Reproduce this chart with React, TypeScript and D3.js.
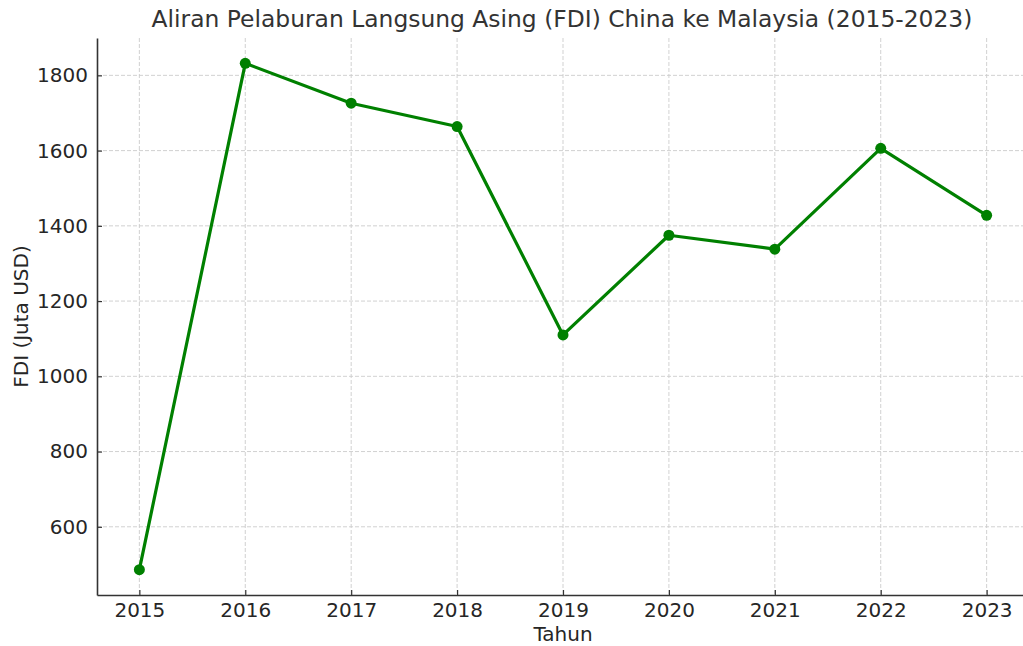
import React, { useEffect, useRef } from 'react';
import * as d3 from 'd3';

const years = [2015, 2016, 2017, 2018, 2019, 2020, 2021, 2022, 2023];
const fdi = [486, 1832, 1726, 1664, 1110, 1375, 1338, 1606, 1428];
const yTicks = [600, 800, 1000, 1200, 1400, 1600, 1800];

export default function App() {
  const svgRef = useRef<SVGSVGElement>(null);

  useEffect(() => {
    const svg = d3.select(svgRef.current);
    svg.selectAll('*').remove();
    const width = 1023;
    const height = 646;
    const left = 97;
    const top = 38;
    const bottom = 595;
    const right = 1029;
    const font = "'DejaVu Sans', sans-serif";

    const x = d3.scaleLinear().domain([2014.6, 2023.4]).range([left, right]);
    const [lo, hi] = d3.extent(fdi) as [number, number];
    const pad = (hi - lo) * 0.05;
    const y = d3.scaleLinear().domain([lo - pad, hi + pad]).range([bottom, top]);

    svg.append('rect').attr('width', width).attr('height', height).attr('fill', '#fff');

    // grid
    const grid = svg.append('g').attr('stroke', '#cccccc').attr('stroke-width', 0.9).attr('stroke-dasharray', '4,2');
    grid.selectAll('.gx').data(years).enter().append('line')
      .attr('x1', (d) => x(d)).attr('x2', (d) => x(d)).attr('y1', top).attr('y2', bottom);
    grid.selectAll('.gy').data(yTicks).enter().append('line')
      .attr('x1', left).attr('x2', right).attr('y1', (d) => y(d)).attr('y2', (d) => y(d));

    // axes
    const xAxis = d3.axisBottom(x).tickValues(years).tickFormat(d3.format('d')).tickSizeInner(-5).tickSizeOuter(0).tickPadding(8);
    const gx = svg.append('g').attr('transform', `translate(0,${bottom})`).call(xAxis);
    const yAxis = d3.axisLeft(y).tickValues(yTicks).tickFormat(d3.format('d')).tickSizeInner(-5).tickSizeOuter(0).tickPadding(9);
    const gy = svg.append('g').attr('transform', `translate(${left},0)`).call(yAxis);
    [gx, gy].forEach((g) => {
      g.select('.domain').attr('stroke', '#333').attr('stroke-width', 1.6);
      g.selectAll('.tick line').attr('stroke', '#333').attr('stroke-width', 1.2);
      g.selectAll('.tick text').attr('font-family', font).attr('font-size', 20).attr('fill', '#262626');
    });
    gx.selectAll('.tick text').attr('dy', '0.71em');

    // line
    const line = d3.line<number>().x((_, i) => x(years[i])).y((d) => y(d));
    svg.append('path').datum(fdi).attr('d', line).attr('fill', 'none')
      .attr('stroke', 'green').attr('stroke-width', 3.2).attr('stroke-linejoin', 'round');
    svg.selectAll('.dot').data(fdi).enter().append('circle')
      .attr('cx', (_, i) => x(years[i])).attr('cy', (d) => y(d)).attr('r', 5.5).attr('fill', 'green');

    // labels
    svg.append('text').attr('x', 562).attr('y', 27).attr('text-anchor', 'middle')
      .attr('font-family', font).attr('font-size', 23.4).attr('fill', '#333')
      .text('Aliran Pelaburan Langsung Asing (FDI) China ke Malaysia (2015-2023)');
    svg.append('text').attr('x', 563).attr('y', 641).attr('text-anchor', 'middle')
      .attr('font-family', font).attr('font-size', 20).attr('fill', '#262626').text('Tahun');
    svg.append('text').attr('transform', `translate(28,${(top + bottom) / 2}) rotate(-90)`)
      .attr('text-anchor', 'middle').attr('font-family', font).attr('font-size', 20).attr('fill', '#262626')
      .text('FDI (Juta USD)');
  }, []);

  return <svg ref={svgRef} width={1023} height={646} style={{ position: 'absolute', left: 0, top: 0 }} />;
}
